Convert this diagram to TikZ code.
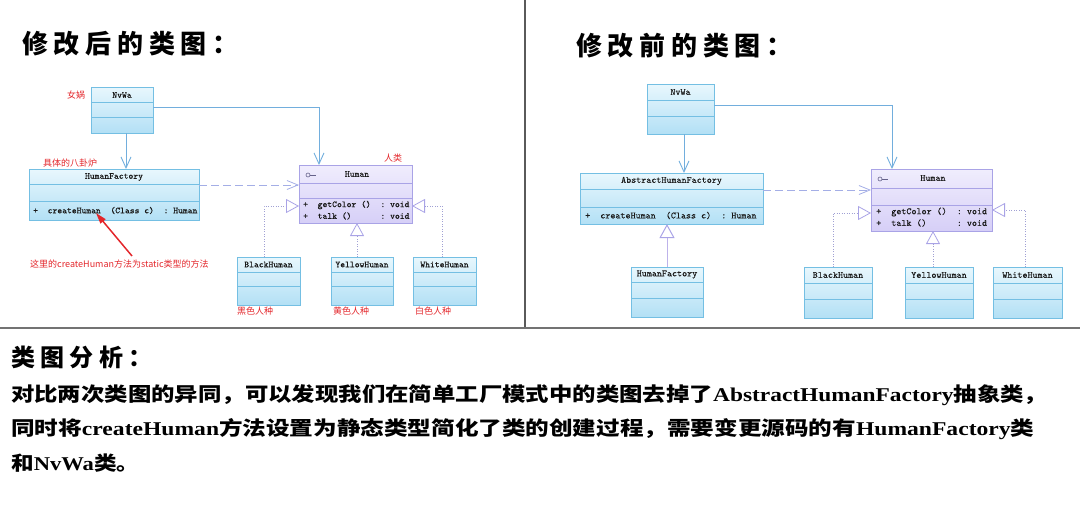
\documentclass[tikz,border=0pt]{standalone}
\usepackage{fontspec}
\usepackage{graphicx}
\usetikzlibrary{arrows.meta}
\newfontfamily\cjk{Noto Sans CJK SC}
\newfontfamily\titlef[LetterSpace=22]{Noto Sans CJK SC}
\newfontfamily\serifl{Liberation Serif}
\newfontfamily\monof[FakeBold=0.15]{Latin Modern Mono}
\definecolor{cyanline}{HTML}{74BFE3}
\definecolor{cyantop}{HTML}{E8F7FD}
\definecolor{cyanbot}{HTML}{B3E0F5}
\definecolor{purline}{HTML}{A9A3E6}
\definecolor{purtop}{HTML}{F0EDFD}
\definecolor{purbot}{HTML}{D6CFF7}
\definecolor{assocc}{HTML}{72AEDD}
\definecolor{dashc}{HTML}{A4AEE6}
\definecolor{dotc}{HTML}{A0A0D4}
\definecolor{genc}{HTML}{BDB2EA}
\definecolor{redc}{HTML}{E3262B}
\definecolor{sepc}{HTML}{5A5A5A}
\begin{document}
\begin{tikzpicture}[x=1pt,y=-1pt,
 cls/.style={draw=cyanline, line width=0.8pt, top color=cyantop, bottom color=cyanbot, inner sep=0pt, outer sep=0pt, anchor=north west},
 hcls/.style={draw=purline, line width=0.8pt, top color=purtop, bottom color=purbot, inner sep=0pt, outer sep=0pt, anchor=north west},
 sepl/.style={draw=cyanline, line width=0.6pt},
 hsepl/.style={draw=purline, line width=0.6pt},
 ttl/.style={font=\fontsize{9.2}{10}\monof, inner sep=0pt, text=black!90},
 ttr/.style={font=\fontsize{9.6}{10}\monof, inner sep=0pt, text=black!90},
 redlab/.style={font=\fontsize{9}{10}\cjk, text=redc, inner sep=0pt, anchor=west},
 assoc/.style={draw=assocc, line width=0.9pt, -{Straight Barb[length=11pt,width=10pt]}},
 dep/.style={draw=dashc, line width=0.8pt, dash pattern=on 8pt off 4pt, -{Straight Barb[length=11pt,width=9pt]}},
 real/.style={draw=dotc, line width=0.8pt, dash pattern=on 1pt off 1.5pt, -{Triangle[open, length=13pt, width=14pt, color=purline]}},
 gen/.style={draw=genc, line width=1pt, -{Triangle[open, length=14pt, width=15pt, color=purline]}},
 redarrow/.style={draw=redc, line width=1.5pt, -{Triangle[length=11pt,width=6.5pt]}},
 icon/.style={draw=purline!60!black, line width=0.6pt},
 bodytxt/.style={anchor=west, inner sep=0pt, font=\fontsize{19.5}{21}\cjk\bfseries}
]
\useasboundingbox (0,0) rectangle (1080,525);

% separators
\draw[sepc, line width=2pt] (525,0) -- (525,328);
\draw[sepc!85, line width=2pt] (0,328) -- (1080,328);

% titles
\node[anchor=west, inner sep=0pt, font=\fontsize{26}{28}\titlef\bfseries] (titleL) at (22,44) {修改后的类图：};
\node[anchor=west, inner sep=0pt, font=\fontsize{26}{28}\titlef\bfseries] (titleR) at (576,46) {修改前的类图：};

% ===== left panel =====
\node[cls, minimum width=62pt, minimum height=46pt] (nvwaL) at (91,87) {};
\draw[sepl] (nvwaL.west |- 0,102) -- (nvwaL.east |- 0,102);
\draw[sepl] (nvwaL.west |- 0,117) -- (nvwaL.east |- 0,117);
\node[ttl] (nvwaLt) at (122,95) {NvWa};

\node[cls, minimum width=170pt, minimum height=51pt] (hfL) at (29,169) {};
\draw[sepl] (hfL.west |- 0,184) -- (hfL.east |- 0,184);
\draw[sepl] (hfL.west |- 0,201) -- (hfL.east |- 0,201);
\node[ttl] (hfLt) at (114,177) {HumanFactory};
\node[ttl, anchor=west] (hfLm) at (33,210.5) {+~~createHuman~~(Class~c)~~:~Human};

\node[hcls, minimum width=113pt, minimum height=58pt] (humanL) at (299,165) {};
\draw[hsepl] (humanL.west |- 0,183) -- (humanL.east |- 0,183);
\draw[hsepl] (humanL.west |- 0,198) -- (humanL.east |- 0,198);
\node[ttl] (humanLt) at (357,174) {Human};
\draw[icon] (308,175) circle[radius=2];
\draw[icon] (310,175) -- (316,175);
\node[ttl, anchor=west] (humanLm1) at (303,205) {+~~getColor~()~~:~void};
\node[ttl, anchor=west] (humanLm2) at (303,216) {+~~talk~()~~~~~~:~void};

\node[cls, minimum width=63pt, minimum height=48pt] (blackL) at (237,257) {};
\draw[sepl] (blackL.west |- 0,272) -- (blackL.east |- 0,272);
\draw[sepl] (blackL.west |- 0,286) -- (blackL.east |- 0,286);
\node[ttl] (blackLt) at (268.5,264.5) {BlackHuman};

\node[cls, minimum width=62pt, minimum height=48pt] (yellowL) at (331,257) {};
\draw[sepl] (yellowL.west |- 0,272) -- (yellowL.east |- 0,272);
\draw[sepl] (yellowL.west |- 0,286) -- (yellowL.east |- 0,286);
\node[ttl] (yellowLt) at (362,264.5) {YellowHuman};

\node[cls, minimum width=63pt, minimum height=48pt] (whiteL) at (413,257) {};
\draw[sepl] (whiteL.west |- 0,272) -- (whiteL.east |- 0,272);
\draw[sepl] (whiteL.west |- 0,286) -- (whiteL.east |- 0,286);
\node[ttl] (whiteLt) at (444.5,264.5) {WhiteHuman};

% left connectors
\draw[assoc] (nvwaL.south -| 126,0) -- (hfL.north -| 126,0);
\draw[assoc] (nvwaL.east |- 0,107) -| (humanL.north -| 319,0);
\draw[dep] (hfL.east |- 0,185) -- (humanL.west |- 0,185);
\draw[real] (blackL.north -| 264,0) |- (humanL.west |- 0,206);
\draw[real] (yellowL.north -| 357,0) -- (humanL.south -| 357,0);
\draw[real] (whiteL.north -| 442,0) |- (humanL.east |- 0,206);

% red annotations
\node[redlab] (lbNvWa) at (67,95) {女娲};
\node[redlab] (lbHF) at (43,163) {具体的八卦炉};
\node[redlab] (lbHuman) at (384,158) {人类};
\node[redlab] (lbStatic) at (30,264) {这里的createHuman方法为static类型的方法};
\node[redlab] (lbBlack) at (237,311) {黑色人种};
\node[redlab] (lbYellow) at (333,311) {黄色人种};
\node[redlab] (lbWhite) at (415,311) {白色人种};
\coordinate (redS) at (132,256);
\coordinate (redT) at (96,213);
\draw[redarrow] (redS) -- (redT);

% ===== right panel =====
\node[cls, minimum width=67pt, minimum height=50pt] (nvwaR) at (647,84) {};
\draw[sepl] (nvwaR.west |- 0,100) -- (nvwaR.east |- 0,100);
\draw[sepl] (nvwaR.west |- 0,116) -- (nvwaR.east |- 0,116);
\node[ttr] (nvwaRt) at (680.5,92) {NvWa};

\node[cls, minimum width=183pt, minimum height=51pt] (ahfR) at (580,173) {};
\draw[sepl] (ahfR.west |- 0,189) -- (ahfR.east |- 0,189);
\draw[sepl] (ahfR.west |- 0,207) -- (ahfR.east |- 0,207);
\node[ttr] (ahfRt) at (671.5,181) {AbstractHumanFactory};
\node[ttr, anchor=west] (ahfRm) at (585,215.5) {+~~createHuman~~(Class~c)~~:~Human};

\node[cls, minimum width=72pt, minimum height=50pt] (hfR) at (631,267) {};
\draw[sepl] (hfR.west |- 0,282) -- (hfR.east |- 0,282);
\draw[sepl] (hfR.west |- 0,298) -- (hfR.east |- 0,298);
\node[ttr] (hfRt) at (667,274.5) {HumanFactory};

\node[hcls, minimum width=121pt, minimum height=62pt] (humanR) at (871,169) {};
\draw[hsepl] (humanR.west |- 0,188) -- (humanR.east |- 0,188);
\draw[hsepl] (humanR.west |- 0,205) -- (humanR.east |- 0,205);
\node[ttr] (humanRt) at (933,178) {Human};
\draw[icon] (880,179) circle[radius=2];
\draw[icon] (882,179) -- (888,179);
\node[ttr, anchor=west] (humanRm1) at (876,212) {+~~getColor~()~~:~void};
\node[ttr, anchor=west] (humanRm2) at (876,223) {+~~talk~()~~~~~~:~void};

\node[cls, minimum width=68pt, minimum height=51pt] (blackR) at (804,267) {};
\draw[sepl] (blackR.west |- 0,283) -- (blackR.east |- 0,283);
\draw[sepl] (blackR.west |- 0,299) -- (blackR.east |- 0,299);
\node[ttr] (blackRt) at (838,275) {BlackHuman};

\node[cls, minimum width=68pt, minimum height=51pt] (yellowR) at (905,267) {};
\draw[sepl] (yellowR.west |- 0,283) -- (yellowR.east |- 0,283);
\draw[sepl] (yellowR.west |- 0,299) -- (yellowR.east |- 0,299);
\node[ttr] (yellowRt) at (939,275) {YellowHuman};

\node[cls, minimum width=69pt, minimum height=51pt] (whiteR) at (993,267) {};
\draw[sepl] (whiteR.west |- 0,283) -- (whiteR.east |- 0,283);
\draw[sepl] (whiteR.west |- 0,299) -- (whiteR.east |- 0,299);
\node[ttr] (whiteRt) at (1027.5,275) {WhiteHuman};

% right connectors
\draw[assoc] (nvwaR.south -| 684,0) -- (ahfR.north -| 684,0);
\draw[assoc] (nvwaR.east |- 0,105) -| (humanR.north -| 892,0);
\draw[dep] (ahfR.east |- 0,190) -- (humanR.west |- 0,190);
\draw[gen] (hfR.north -| 667,0) -- (ahfR.south -| 667,0);
\draw[real] (blackR.north -| 833,0) |- (humanR.west |- 0,213);
\draw[real] (yellowR.north -| 933,0) -- (humanR.south -| 933,0);
\draw[real] (whiteR.north -| 1025,0) |- (humanR.east |- 0,210);

% ===== analysis text =====
\node[anchor=west, inner sep=0pt, font=\fontsize{24}{26}\titlef\bfseries] (anaH) at (11,357) {类图分析：};
\node[bodytxt] (ana1) at (11,395) {\resizebox{1036pt}{\height}{对比两次类图的异同，可以发现我们在简单工厂模式中的类图去掉了{\serifl AbstractHumanFactory}抽象类，}};
\node[bodytxt] (ana2) at (11,429) {\resizebox{1023pt}{\height}{同时将{\serifl createHuman}方法设置为静态类型简化了类的创建过程，需要变更源码的有{\serifl HumanFactory}类}};
\node[bodytxt] (ana3) at (11,463) {\resizebox{128pt}{\height}{和{\serifl NvWa}类。}};
\end{tikzpicture}
\end{document}
